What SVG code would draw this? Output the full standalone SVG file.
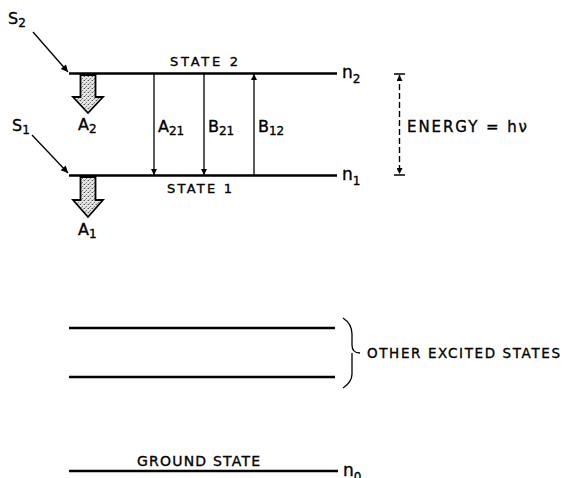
<svg xmlns="http://www.w3.org/2000/svg" width="566" height="478" viewBox="0 0 566 478">
<defs>
<pattern id="dots" width="4" height="4" patternUnits="userSpaceOnUse">
<rect width="4" height="4" fill="#e4e4e4"/>
<rect x="0" y="0" width="1" height="1" fill="#555"/>
<rect x="2" y="2" width="1" height="1" fill="#777"/>
<rect x="3" y="0" width="1" height="1" fill="#aaa"/>
<rect x="1" y="3" width="1" height="1" fill="#999"/>
</pattern>
<marker id="ah" viewBox="0 0 10 10" refX="10" refY="5" markerWidth="6" markerHeight="6" orient="auto-start-reverse" markerUnits="userSpaceOnUse">
<path d="M0,0 L10,5 L0,10 Z" fill="#000"/>
</marker>
<marker id="ahs" viewBox="0 0 10 10" refX="10" refY="5" markerWidth="10" markerHeight="7" orient="auto" markerUnits="userSpaceOnUse">
<path d="M0,0 L10,5 L0,10 Z" fill="#000"/>
</marker>
</defs>
<style>
text{font-family:"DejaVu Sans","Liberation Sans",Arial,sans-serif;fill:#000;stroke:#000;stroke-width:0.35}
.lvl{stroke:#000;stroke-width:2.6;fill:none}
.thin{stroke:#000;stroke-width:1.3;fill:none}
.lbl{font-size:16px}
.sub{font-size:12px}
.cap{font-size:13px}
.block{fill:url(#dots);stroke:#000;stroke-width:1.8;stroke-linejoin:miter}
</style>
<rect width="566" height="478" fill="#fff"/>

<g id="state2">
<line class="lvl" x1="69" y1="73.5" x2="337" y2="73.5"/>
<text class="cap" x="170" y="66" textLength="68" lengthAdjust="spacing">STATE 2</text>
<text x="342" y="78" font-size="17">n<tspan font-size="12" dy="5">2</tspan></text>
</g>

<g id="state1">
<line class="lvl" x1="69" y1="175.5" x2="337" y2="175.5"/>
<text class="cap" x="167" y="193" textLength="65" lengthAdjust="spacing">STATE 1</text>
<text x="342" y="180" font-size="17">n<tspan font-size="12" dy="5">1</tspan></text>
</g>

<g id="excited">
<line class="lvl" x1="69" y1="328" x2="335" y2="328"/>
<line class="lvl" x1="69" y1="377" x2="335" y2="377"/>
<path class="thin" d="M343,318 Q352,324 352,334 L352,345 Q352,353 360,353 M352,353 L352,374 Q352,382 343,388"/>
<text x="367" y="358" font-size="13.5" textLength="193" lengthAdjust="spacing">OTHER  EXCITED STATES</text>
</g>

<g id="ground">
<line class="lvl" x1="69" y1="471" x2="338" y2="471"/>
<text x="137" y="466" font-size="14" textLength="123" lengthAdjust="spacing">GROUND STATE</text>
<text x="343" y="476" font-size="17">n<tspan font-size="12" dy="5">0</tspan></text>
</g>

<g id="S2">
<text class="lbl" x="8" y="24">S<tspan class="sub" dy="3">2</tspan></text>
</g>
<g id="S1">
<text class="lbl" x="12" y="131">S<tspan class="sub" dy="3">1</tspan></text>
</g>
<g id="A2">
<path class="block" d="M80.5,75 L95.5,75 L95.5,97 L103,97 L88,113 L73,97 L80.5,97 Z"/>
<text class="lbl" x="78" y="130">A<tspan class="sub" dy="3">2</tspan></text>
</g>
<g id="A1">
<path class="block" d="M80.5,177 L95.5,177 L95.5,200 L103,200 L88,217 L73,200 L80.5,200 Z"/>
<text class="lbl" x="78" y="235">A<tspan class="sub" dy="3">1</tspan></text>
</g>
<g id="energy">
<line x1="394" y1="74" x2="405" y2="74" stroke="#000" stroke-width="1.5"/>
<line x1="394" y1="175" x2="405" y2="175" stroke="#000" stroke-width="1.5"/>
<line x1="399.5" y1="75" x2="399.5" y2="174" stroke="#000" stroke-width="1.4" stroke-dasharray="6,3" marker-start="url(#ah)" marker-end="url(#ah)"/>
<text x="407" y="132" font-size="15" textLength="120" lengthAdjust="spacing">ENERGY = hν</text>
</g>

<g id="connectors">
<line class="thin" x1="33" y1="32" x2="68" y2="72" marker-end="url(#ahs)"/>
<line class="thin" x1="32" y1="135" x2="68" y2="173" marker-end="url(#ahs)"/>
<line class="thin" x1="154" y1="74" x2="154" y2="175" marker-end="url(#ah)"/>
<line class="thin" x1="204" y1="74" x2="204" y2="175" marker-end="url(#ah)"/>
<line class="thin" x1="254" y1="175" x2="254" y2="74" marker-end="url(#ah)"/>
<text class="lbl" x="158" y="132">A<tspan class="sub" dy="3">21</tspan></text>
<text class="lbl" x="208" y="132">B<tspan class="sub" dy="3">21</tspan></text>
<text class="lbl" x="258" y="132">B<tspan class="sub" dy="3">12</tspan></text>
</g>
</svg>
